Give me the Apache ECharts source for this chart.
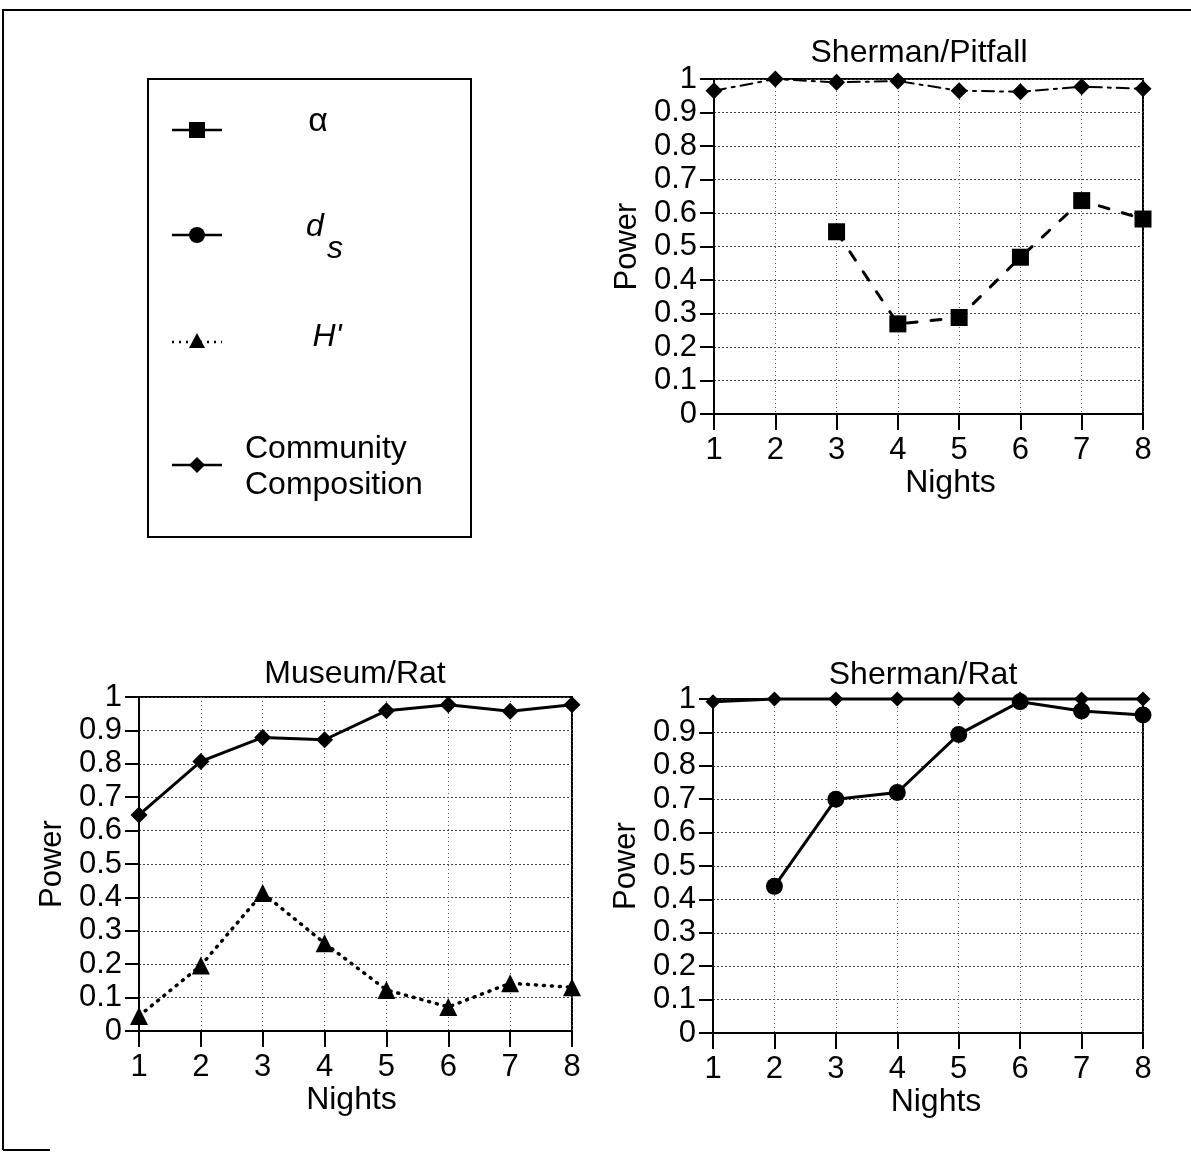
<!DOCTYPE html>
<html>
<head>
<meta charset="utf-8">
<style>
  html, body { margin: 0; padding: 0; background: #fff; }
  #chart { width: 1191px; height: 1154px; }
</style>
<script src="https://cdn.jsdelivr.net/npm/echarts@6/dist/echarts.min.js"></script>
</head>
<body>
<div id="chart"></div>
<script>
// ---- Data ----
const nights = [1, 2, 3, 4, 5, 6, 7, 8];
const yTicks = ['0', '0.1', '0.2', '0.3', '0.4', '0.5', '0.6', '0.7', '0.8', '0.9', '1'];
const panelTitles = ['Sherman/Pitfall', 'Museum/Rat', 'Sherman/Rat'];
const legendLabels = ['α', 'd', 's', "H'", 'Community', 'Composition'];

// Sherman/Pitfall
const spCommunity = [0.965, 1.0, 0.99, 0.994, 0.965, 0.962, 0.977, 0.971];
const spAlpha = [null, null, 0.544, 0.269, 0.288, 0.468, 0.637, 0.582];
// Museum/Rat
const mrCommunity = [0.647, 0.807, 0.879, 0.872, 0.959, 0.977, 0.957, 0.977];
const mrH = [0.045, 0.196, 0.413, 0.263, 0.123, 0.072, 0.143, 0.131];
// Sherman/Rat
const srCommunity = [0.992, 1.0, 1.0, 1.0, 1.0, 1.0, 1.0, 1.0];
const srDs = [null, 0.439, 0.700, 0.720, 0.894, 0.992, 0.964, 0.952];

const FONT = '"Liberation Sans", Arial, Helvetica, sans-serif';
const pairs = arr => nights.map((n, i) => [n, arr[i]]).filter(p => p[1] !== null);

const grids = [
  { left: 714, top: 79, width: 429, height: 335 },
  { left: 139, top: 697, width: 433, height: 334 },
  { left: 713, top: 699, width: 430, height: 334 }
];

function xAx(i, nameShift) {
  return {
    type: 'value', gridIndex: i, min: 1, max: 8, interval: 1,
    name: 'Nights', nameLocation: 'middle', nameGap: 52,
    nameTextStyle: { fontFamily: FONT, fontSize: 32, color: '#000', padding: [0, 0, 0, nameShift] },
    axisLine: { lineStyle: { color: '#000', width: 2 } },
    axisTick: { show: true, length: 16, lineStyle: { color: '#000', width: 2 } },
    axisLabel: { fontFamily: FONT, fontSize: 31, color: '#000', margin: 21,
                 formatter: v => String(nights[Math.round(v) - 1]) },
    splitLine: { show: true, lineStyle: { color: '#555', type: [1, 3], width: 1 } }
  };
}
function yAx(i) {
  return {
    type: 'value', gridIndex: i, min: 0, max: 1, interval: 0.1,
    name: 'Power', nameLocation: 'middle', nameGap: 71,
    nameTextStyle: { fontFamily: FONT, fontSize: 31, color: '#000' },
    axisLine: { lineStyle: { color: '#000', width: 2 } },
    axisTick: { show: true, length: 14, inside: false, lineStyle: { color: '#000', width: 2 } },
    axisLabel: { fontFamily: FONT, fontSize: 31, color: '#000', margin: 17,
                 formatter: v => yTicks[Math.round(v * 10)] },
    splitLine: { show: true, lineStyle: { color: '#444', type: [2, 2], width: 1 } }
  };
}

const blk = '#000';
function ser(i, data, symbol, size, lineType, width) {
  return {
    type: 'line', xAxisIndex: i, yAxisIndex: i, data: pairs(data),
    symbol: symbol, symbolSize: size, clip: false, animation: false,
    itemStyle: { color: blk },
    lineStyle: { color: blk, width: width, type: lineType, cap: 'round' }
  };
}

const option = {
  backgroundColor: '#fff',
  animation: false,
  grid: grids.map(g => Object.assign({ show: true, borderColor: '#000', borderWidth: 2, backgroundColor: 'transparent' }, g)),
  xAxis: [xAx(0, 44), xAx(1, -8), xAx(2, 16)],
  yAxis: [yAx(0), yAx(1), yAx(2)],
  series: [
    ser(0, spCommunity, 'diamond', 17, [12, 6, 3, 6], 2),
    ser(0, spAlpha, 'rect', 17, [10, 14], 3),
    ser(1, mrCommunity, 'diamond', 17, 'solid', 3),
    ser(1, mrH, 'triangle', 18, [1, 7], 3.5),
    ser(2, srCommunity, 'diamond', 15, 'solid', 3),
    ser(2, srDs, 'circle', 17, 'solid', 3)
  ],
  graphic: [
    // outer frame
    { type: 'polyline', shape: { points: [[3, 1150], [3, 10], [1191, 10]] }, style: { stroke: '#000', lineWidth: 2, fill: null } },
    { type: 'line', shape: { x1: 3, y1: 1150, x2: 50, y2: 1150 }, style: { stroke: '#000', lineWidth: 2 } },
    // panel titles
    { type: 'text', x: 919, y: 53, style: { text: panelTitles[0], font: '32px ' + FONT, fill: '#000', textAlign: 'center', textVerticalAlign: 'middle' } },
    { type: 'text', x: 355, y: 674, style: { text: panelTitles[1], font: '32px ' + FONT, fill: '#000', textAlign: 'center', textVerticalAlign: 'middle' } },
    { type: 'text', x: 923, y: 675, style: { text: panelTitles[2], font: '32px ' + FONT, fill: '#000', textAlign: 'center', textVerticalAlign: 'middle' } },
    // legend box
    { type: 'rect', shape: { x: 148, y: 79, width: 323, height: 458 }, style: { stroke: '#000', lineWidth: 2, fill: '#fff' } },
    // alpha
    { type: 'line', shape: { x1: 172, y1: 130, x2: 222, y2: 130 }, style: { stroke: '#000', lineWidth: 2.5 } },
    { type: 'rect', shape: { x: 189, y: 122, width: 16, height: 16 }, style: { fill: '#000' } },
    { type: 'text', x: 318, y: 122, style: { text: legendLabels[0], font: '34px ' + FONT, fill: '#000', textAlign: 'center', textVerticalAlign: 'middle' } },
    // d_s
    { type: 'line', shape: { x1: 172, y1: 235, x2: 222, y2: 235 }, style: { stroke: '#000', lineWidth: 2.5 } },
    { type: 'circle', shape: { cx: 197, cy: 235, r: 8 }, style: { fill: '#000' } },
    { type: 'text', x: 315, y: 227, style: { text: legendLabels[1], font: 'italic 32px ' + FONT, fill: '#000', textAlign: 'center', textVerticalAlign: 'middle' } },
    { type: 'text', x: 335, y: 249, style: { text: legendLabels[2], font: 'italic 32px ' + FONT, fill: '#000', textAlign: 'center', textVerticalAlign: 'middle' } },
    // H'
    { type: 'line', shape: { x1: 172, y1: 342, x2: 222, y2: 342 }, style: { stroke: '#000', lineWidth: 2.5, lineDash: [2, 5] } },
    { type: 'polygon', shape: { points: [[197, 333], [189, 348], [205, 348]] }, style: { fill: '#000' } },
    { type: 'text', x: 327, y: 337, style: { text: legendLabels[3], font: 'italic 32px ' + FONT, fill: '#000', textAlign: 'center', textVerticalAlign: 'middle' } },
    // community composition
    { type: 'line', shape: { x1: 172, y1: 465, x2: 222, y2: 465 }, style: { stroke: '#000', lineWidth: 2.5 } },
    { type: 'polygon', shape: { points: [[197, 457], [205, 465], [197, 473], [189, 465]] }, style: { fill: '#000' } },
    { type: 'text', x: 245, y: 449, style: { text: legendLabels[4], font: '32px ' + FONT, fill: '#000', textAlign: 'left', textVerticalAlign: 'middle' } },
    { type: 'text', x: 245, y: 485, style: { text: legendLabels[5], font: '32px ' + FONT, fill: '#000', textAlign: 'left', textVerticalAlign: 'middle' } }
  ]
};

const chart = echarts.init(document.getElementById('chart'), null, { renderer: 'canvas' });
chart.setOption(option);
</script>
</body>
</html>
